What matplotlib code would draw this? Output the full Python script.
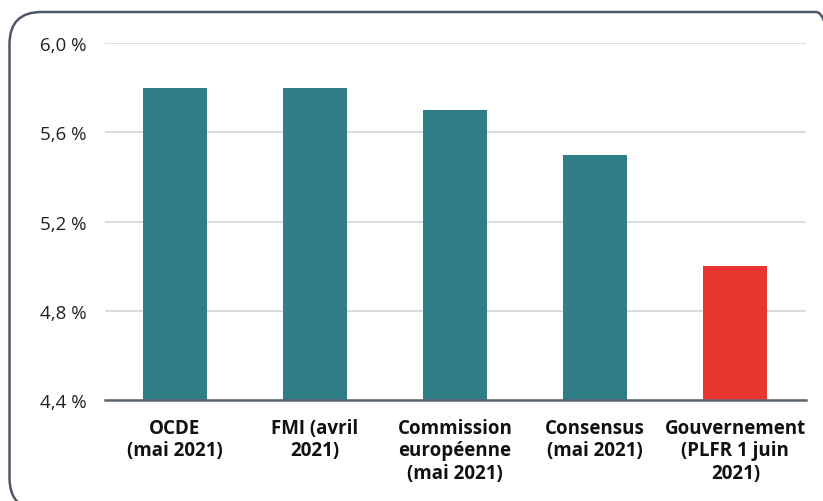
import matplotlib
matplotlib.use("Agg")
import matplotlib.pyplot as plt
from matplotlib.patches import FancyBboxPatch

categories = ["OCDE\n(mai 2021)", "FMI (avril\n2021)", "Commission\neuropéenne\n(mai 2021)",
              "Consensus\n(mai 2021)", "Gouvernement\n(PLFR 1 juin\n2021)"]
values = [5.8, 5.8, 5.7, 5.5, 5.0]
colors = ["#2F7D86", "#2F7D86", "#2F7D86", "#2F7D86", "#E8352F"]
yticks = [4.4, 4.8, 5.2, 5.6, 6.0]
ytick_labels = ["4,4 %", "4,8 %", "5,2 %", "5,6 %", "6,0 %"]

plt.rcParams['font.family'] = ['Open Sans', 'DejaVu Sans']

fig = plt.figure(figsize=(8.23, 5.02), dpi=100)
W, H = 823, 502

# frame layer in pixel coordinates (origin bottom-left)
bg = fig.add_axes([0, 0, 1, 1])
bg.set_xlim(0, W)
bg.set_ylim(0, H)
bg.axis("off")
top_px, bottom_px, left_px, right_px = 13, 511, 9.5, 848
frame = FancyBboxPatch((left_px, H - bottom_px), right_px - left_px, bottom_px - top_px,
                       boxstyle="round,pad=0,rounding_size=32",
                       fill=False, edgecolor="#4E5866", linewidth=1.8, clip_on=False)
bg.add_patch(frame)

ax = fig.add_axes([104.5 / W, 1 - 401 / H, 701 / W, (401 - 44) / H])
ax.patch.set_alpha(0)

x = list(range(len(values)))
ax.bar(x, [v - 4.4 for v in values], bottom=4.4, width=0.457, color=colors, zorder=3)
ax.set_xlim(-0.5, len(values) - 0.5)
ax.set_ylim(4.4, 6.0)
ax.set_yticks(yticks)
ax.set_yticklabels(ytick_labels, fontsize=13.5, color="#222222")
ax.set_xticks(x)
ax.set_xticklabels(categories, fontsize=13.5, fontweight="bold", color="#111111", linespacing=1.15)
ax.tick_params(axis="both", length=0)
ax.tick_params(axis="y", pad=13)
ax.tick_params(axis="x", pad=13)
ax.grid(axis="y", color="#D3D7DC", linewidth=1.2, zorder=0)
for s in ["top", "right", "left"]:
    ax.spines[s].set_visible(False)
ax.spines["bottom"].set_color("#5C6570")
ax.spines["bottom"].set_linewidth(1.8)
ax.spines["bottom"].set_zorder(4)

fig.savefig("out.png", dpi=100)
